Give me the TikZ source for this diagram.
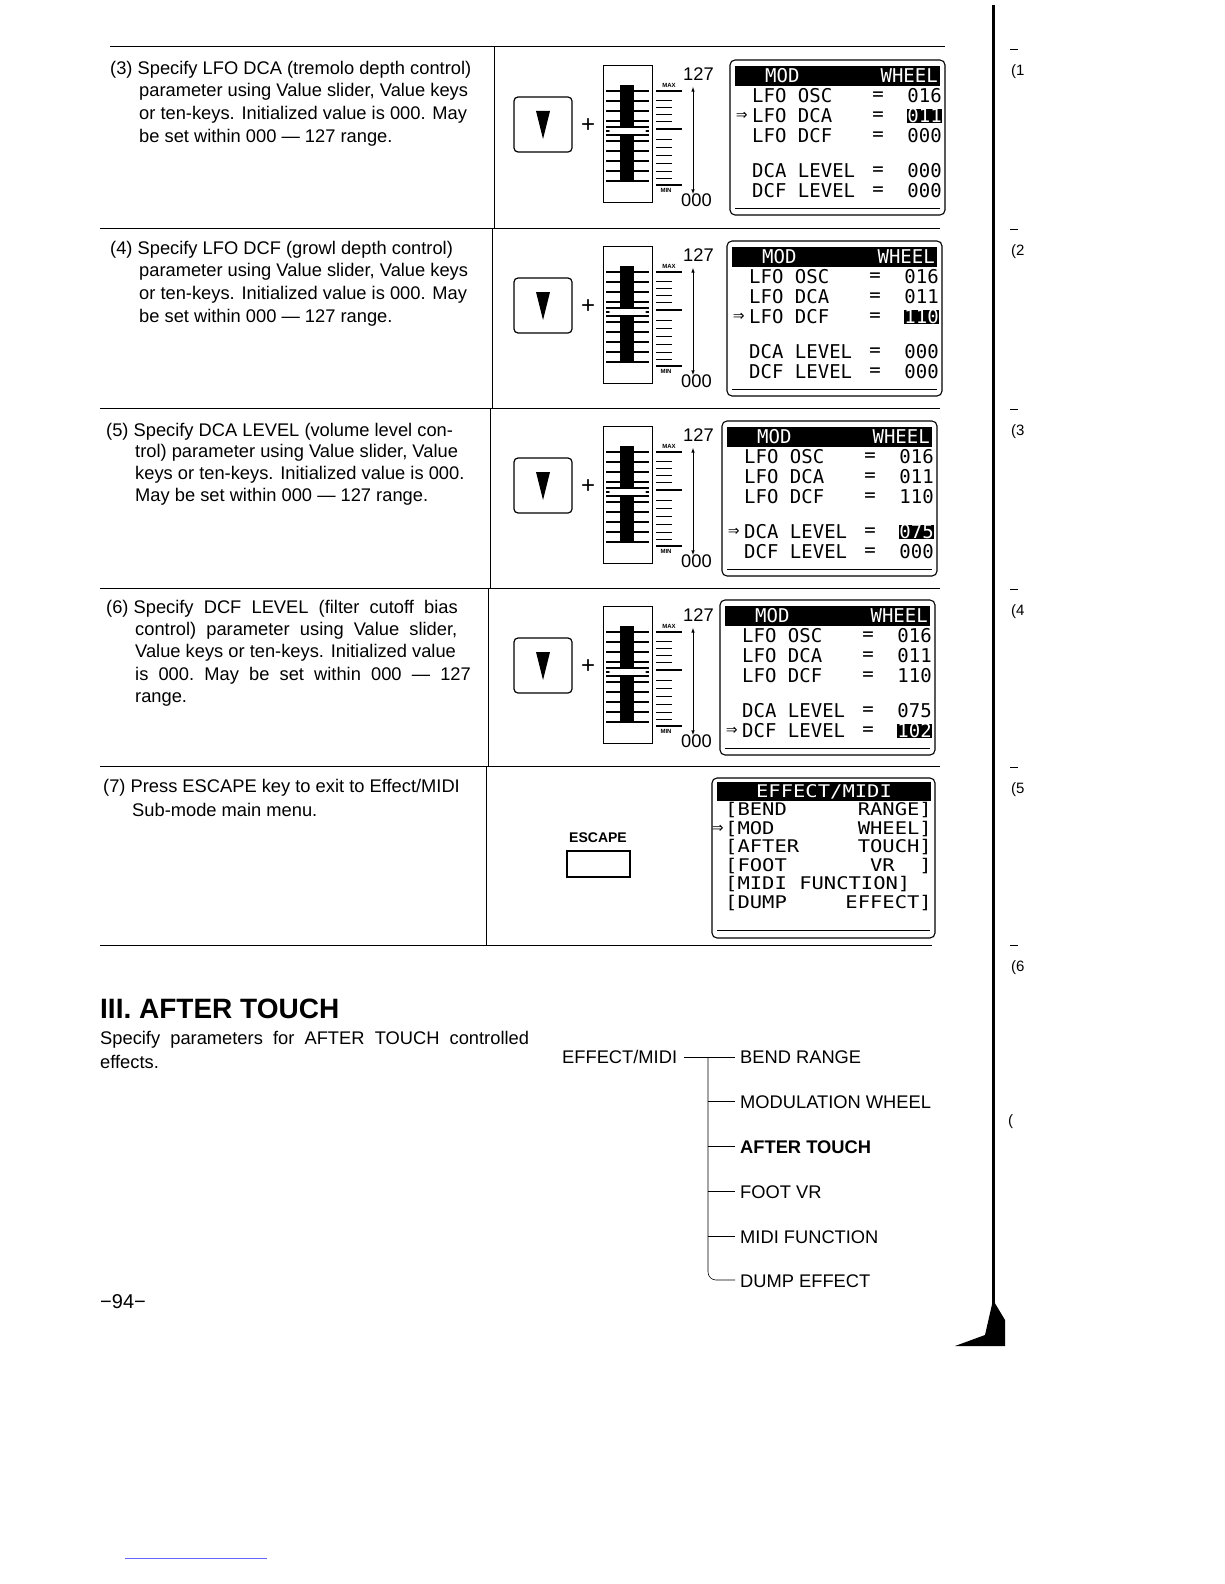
\documentclass[tikz,border=0pt]{standalone}
\usepackage{fontspec}
\setmainfont{Liberation Sans}
\newfontfamily\lcd{DejaVu Sans Mono}
\begin{document}
\begin{tikzpicture}[x=1pt,y=-1pt,
  txt/.style={anchor=west,inner sep=0pt,font=\fontsize{18.3}{20}\selectfont},
  lcdt/.style={inner sep=0pt,font=\lcd\fontsize{19}{20}\selectfont},
  lcds/.style={inner sep=0pt,font=\lcd\fontsize{20.5}{18}\selectfont,yscale=0.85},
  rule/.style={line width=1pt},
  thin/.style={line width=0.6pt}]
\useasboundingbox (0,0) rectangle (1224,1584);
% rows rules
\draw[rule] (110,47) -- (945,47);
\foreach \y in {228,408,588,766} \draw[rule] (100,\y) -- (940,\y);
\draw[rule] (100,945) -- (932,945);
\draw[thin] (494,47) -- (494,228);
\draw[thin] (492,228) -- (492,408);
\draw[thin] (490,408) -- (490,588);
\draw[thin] (488,588) -- (488,766);
\draw[thin] (486,766) -- (486,945);
% row slider graphics
\newcommand\keyslider[1]{%
 \draw[line width=1.2pt,rounded corners=4pt] (514,#1+50) rectangle (572,#1+105);
 \fill (536,#1+64) -- (550,#1+64) -- (543,#1+92) -- cycle;
 \node[inner sep=0pt,font=\fontsize{24}{24}\selectfont] at (588,#1+79) {+};
 \draw[thin] (603,#1+18) rectangle (652,#1+155);
 \foreach \k in {0,...,9}{\draw[line width=1.6pt] (606,#1+44+\k*10) -- (649,#1+44+\k*10);}
 \fill (620,#1+38) rectangle (634,#1+135);
 \fill[white] (606,#1+80) -- (649,#1+80) -- (645,#1+84) -- (649,#1+88) -- (606,#1+88) -- (610,#1+84) -- cycle;
 \draw[line width=1.4pt] (606,#1+80) -- (649,#1+80);
 \draw[line width=1.4pt] (606,#1+88) -- (649,#1+88);
 \draw[line width=1.2pt] (656,#1+44) -- (682,#1+44);
 \draw[line width=1.2pt] (656,#1+82) -- (682,#1+82);
 \draw[line width=1.2pt] (656,#1+138) -- (682,#1+138);
 \foreach \k in {53,60,67,74,92,100,108,116,124,131}{\draw (656,#1+\k) -- (672,#1+\k);}
 \node[inner sep=0pt,font=\fontsize{6}{6}\selectfont\bfseries] at (669,#1+38) {MAX};
 \node[inner sep=0pt,font=\fontsize{6}{6}\selectfont\bfseries] at (666,#1+143) {MIN};
 \draw[thin,-latex] (693,#1+100) -- (693,#1+40);
 \draw[thin,-latex] (693,#1+100) -- (693,#1+147);
 \node[txt] at (683,#1+27) {127};
 \node[txt] at (681,#1+153) {000};
}
\keyslider{47}\keyslider{228}\keyslider{408}\keyslider{588}
% LCD macro
\newcommand\lcdbox[2]{%
 \draw[line width=1.1pt,rounded corners=5pt] (#1,#2) rectangle (#1+215,#2+155);
 \draw[thin] (#1+5,#2+148) -- (#1+210,#2+148);
 \fill (#1+5,#2+6) rectangle (#1+210,#2+26);
 \node[lcdt,text=white,anchor=west] at (#1+35,#2+16) {MOD};
 \node[lcdt,text=white,anchor=east] at (#1+208,#2+16) {WHEEL};
}
\newcommand\hl[1]{\colorbox{black}{\textcolor{white}{#1}}}
\newcommand\lcdrows[8]{% x y arrowrow v1 v2 v3 v4 v5
 \node[lcdt,anchor=west] at (#1+22,#2+36) {LFO OSC};
 \node[lcdt,anchor=west] at (#1+22,#2+56) {LFO DCA};
 \node[lcdt,anchor=west] at (#1+22,#2+76) {LFO DCF};
 \node[lcdt,anchor=west] at (#1+22,#2+111) {DCA LEVEL};
 \node[lcdt,anchor=west] at (#1+22,#2+131) {DCF LEVEL};
 \foreach \yy in {36,56,76,111,131}{\node[lcdt] at (#1+148,#2+\yy) {=};}
 \node[lcdt,anchor=east] at (#1+212,#2+36) {#4};
 \node[lcdt,anchor=east] at (#1+212,#2+56) {#5};
 \node[lcdt,anchor=east] at (#1+212,#2+76) {#6};
 \node[lcdt,anchor=east] at (#1+212,#2+111) {#7};
 \node[lcdt,anchor=east] at (#1+212,#2+131) {#8};
 \node[lcdt,anchor=west] at (#1+6,#2+#3) {⇒};
}
\setlength{\fboxsep}{0pt}
\lcdbox{730}{60}\lcdrows{730}{60}{56}{016}{\hl{011}}{000}{000}{000}
\lcdbox{727}{241}\lcdrows{727}{241}{76}{016}{011}{\hl{110}}{000}{000}
\lcdbox{722}{421}\lcdrows{722}{421}{111}{016}{011}{110}{\hl{075}}{000}
\lcdbox{720}{600}\lcdrows{720}{600}{131}{016}{011}{110}{075}{\hl{102}}
% row 7 LCD
\draw[line width=1.1pt,rounded corners=5pt] (712,778) rectangle (935,938);
\draw[thin] (717,930) -- (930,930);
\fill (717,782) rectangle (931,801);
\node[lcds,text=white] at (824,792) {EFFECT/MIDI};
\foreach \a/\b/\yy in {BEND/RANGE/810,MOD/WHEEL/829,AFTER/TOUCH/847,FOOT/VR\ \ /866,DUMP/EFFECT/903}{
 \node[lcds,anchor=west] at (725,\yy) {[\a};
 \node[lcds,anchor=east] at (932,\yy) {\b]};}
\node[lcds,anchor=west] at (725,884) {[MIDI FUNCTION]};
\node[lcdt,anchor=west] at (712,829) {⇒};
\node[inner sep=0pt,font=\fontsize{14}{14}\selectfont\bfseries] at (598,838) {ESCAPE};
\draw[line width=1.5pt] (567,851) rectangle (630,877);
% texts
\node[txt] at (110,70) {(3) Specify LFO DCA (tremolo depth control)};
\node[txt] at (139,92) {parameter using Value slider, Value keys};
\node[txt] at (139,115) {or ten-keys. Initialized value is 000. May};
\node[txt] at (139,138) {be set within 000 — 127 range.};
\node[txt] at (110,250) {(4) Specify LFO DCF (growl depth control)};
\node[txt] at (139,272) {parameter using Value slider, Value keys};
\node[txt] at (139,295) {or ten-keys. Initialized value is 000. May};
\node[txt] at (139,318) {be set within 000 — 127 range.};
\node[txt] at (106,432) {(5) Specify DCA LEVEL (volume level con-};
\node[txt] at (135,453) {trol) parameter using Value slider, Value};
\node[txt] at (135,475) {keys or ten-keys. Initialized value is 000.};
\node[txt] at (135,497) {May be set within 000 — 127 range.};
\node[txt] at (106,609) {(6) Specify\ \ DCF\ \ LEVEL\ \ (filter\ \ cutoff\ \ bias};
\node[txt] at (135,631) {control)\ \ parameter\ \ using\ \ Value\ \ slider,};
\node[txt] at (135,653) {Value keys or ten-keys. Initialized value};
\node[txt] at (135,676) {is\ \ 000.\ \ May\ \ be\ \ set\ \ within\ \ 000\ \ —\ \ 127};
\node[txt] at (135,699) {range.};
\node[txt] at (103,788) {(7) Press ESCAPE key to exit to Effect/MIDI};
\node[txt] at (132,810) {Sub-mode main menu.};
% section III
\node[anchor=west,inner sep=0pt,font=\fontsize{28}{28}\selectfont\bfseries] at (100,1009) {III. AFTER TOUCH};
\node[txt] at (100,1040) {Specify\ \ parameters\ \ for\ \ AFTER\ \ TOUCH\ \ controlled};
\node[txt] at (100,1062) {effects.};
\node[txt] (em) at (562,1057) {EFFECT/MIDI};
\draw[thin] (684,1057) -- (735,1057);
\draw[thin] (708,1057) -- (708,1272) to[out=-90,in=180] (716,1280) -- (735,1280);
\foreach \yy in {1101,1146,1191,1236}{\draw[thin] (708,\yy) -- (735,\yy);}
\node[txt] at (740,1057) {BEND RANGE};
\node[txt] at (740,1102) {MODULATION WHEEL};
\node[txt,font=\fontsize{18.3}{20}\selectfont\bfseries] at (740,1147) {AFTER TOUCH};
\node[txt] at (740,1192) {FOOT VR};
\node[txt] at (740,1237) {MIDI FUNCTION};
\node[txt] at (740,1281) {DUMP EFFECT};
\node[txt,font=\fontsize{20}{20}\selectfont] at (100,1302) {−94−};
% right margin
\draw[line width=3pt] (993,5) -- (993,1340);
\fill (955,1346) -- (1005,1346) -- (1005,1320) -- (993,1300) -- (985,1335) -- cycle;
\foreach \yy/\t in {72/1,252/2,432/3,612/4,790/5,968/6}{
 \draw[thin] (1010,\yy-23) -- (1018,\yy-23);
 \node[txt,font=\fontsize{15}{15}\selectfont] at (1011,\yy) {(\t};}
\node[txt,font=\fontsize{15}{15}\selectfont] at (1008,1122) {(};
\draw[blue!60,thin] (125,1558) -- (267,1558);
\end{tikzpicture}
\end{document}
